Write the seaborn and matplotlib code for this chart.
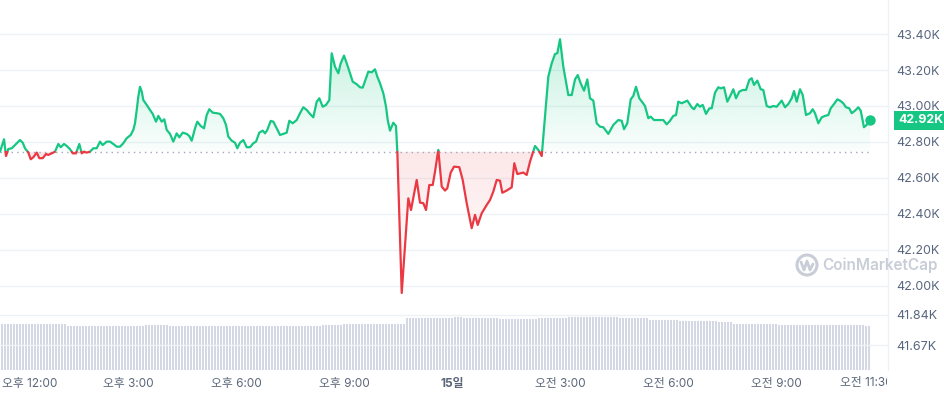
import numpy as np
import pandas as pd
import matplotlib
matplotlib.use("Agg")
import matplotlib.pyplot as plt
import matplotlib.colors as mcolors
import seaborn as sns
from matplotlib.path import Path
from matplotlib.patches import Circle
from matplotlib.lines import Line2D
from matplotlib.transforms import ScaledTranslation, Bbox, IdentityTransform, blended_transform_factory

# ------------------------------------------------------------
# Data (BTC price, 24h, hours relative to 00:00 on the 15th)
# ------------------------------------------------------------
hours = [
    -12.556, -12.444, -12.389, -12.325, -12.231, -12.139, -12.0, -11.925, -11.861, -11.769,
    -11.703, -11.631, -11.536, -11.464, -11.369, -11.278, -11.214, -11.119, -11.028, -10.936,
    -10.869, -10.778, -10.703, -10.611, -10.536, -10.444, -10.353, -10.286, -10.222, -10.147,
    -10.056, -9.964, -9.869, -9.778, -9.703, -9.592, -9.5, -9.408, -9.314, -9.222,
    -9.131, -9.036, -8.925, -8.853, -8.806, -8.758, -8.714, -8.667, -8.619, -8.575,
    -8.481, -8.389, -8.314, -8.222, -8.158, -8.064, -7.992, -7.925, -7.833, -7.742,
    -7.647, -7.575, -7.481, -7.369, -7.297, -7.231, -7.139, -7.075, -6.981, -6.889,
    -6.814, -6.742, -6.647, -6.536, -6.444, -6.353, -6.278, -6.214, -6.119, -6.028,
    -5.964, -5.889, -5.797, -5.703, -5.611, -5.519, -5.444, -5.353, -5.258, -5.194,
    -5.131, -5.036, -4.964, -4.869, -4.778, -4.686, -4.592, -4.519, -4.425, -4.314,
    -4.222, -4.131, -4.036, -3.944, -3.853, -3.758, -3.686, -3.592, -3.5, -3.408,
    -3.342, -3.25, -3.158, -3.092, -3.0, -2.925, -2.833, -2.758, -2.647, -2.556,
    -2.481, -2.389, -2.325, -2.231, -2.139, -2.075, -2.0, -1.908, -1.833, -1.786,
    -1.722, -1.631, -1.556, -1.519, -1.397, -1.214, -1.139, -0.981, -0.889, -0.797,
    -0.722, -0.631, -0.536, -0.472, -0.381, -0.286, -0.194, -0.131, -0.036, 0.056,
    0.203, 0.297, 0.408, 0.547, 0.639, 0.714, 0.825, 0.964, 1.056, 1.147,
    1.242, 1.333, 1.397, 1.519, 1.658, 1.731, 1.814, 1.981, 2.075, 2.167,
    2.306, 2.397, 2.492, 2.675, 2.769, 2.861, 2.925, 3.0, 3.092, 3.231,
    3.325, 3.417, 3.492, 3.575, 3.667, 3.758, 3.833, 3.925, 4.019, 4.111,
    4.203, 4.342, 4.481, 4.619, 4.714, 4.778, 4.869, 4.964, 5.036, 5.111,
    5.203, 5.297, 5.361, 5.453, 5.519, 5.611, 5.731, 5.869, 5.964, 6.056,
    6.147, 6.222, 6.286, 6.381, 6.536, 6.658, 6.722, 6.814, 6.889, 6.964,
    7.056, 7.147, 7.214, 7.306, 7.397, 7.464, 7.556, 7.647, 7.742, 7.814,
    7.889, 7.981, 8.075, 8.167, 8.258, 8.325, 8.389, 8.481, 8.575, 8.647,
    8.742, 8.833, 8.925, 9.019, 9.158, 9.25, 9.342, 9.436, 9.5, 9.575,
    9.667, 9.742, 9.833, 9.944, 10.019, 10.083, 10.175, 10.269, 10.361, 10.453,
    10.519, 10.611, 10.703, 10.778, 10.869, 10.944, 11.036, 11.103, 11.194, 11.286,
    11.353, 11.444, 11.519, 11.611,
]

prices = [  # thousands of USD
    42.746, 42.815, 42.722, 42.761, 42.765, 42.783, 42.811, 42.796, 42.765, 42.741,
    42.704, 42.715, 42.741, 42.710, 42.710, 42.733, 42.728, 42.737, 42.746, 42.789,
    42.771, 42.789, 42.778, 42.760, 42.737, 42.737, 42.789, 42.737, 42.746, 42.741,
    42.746, 42.765, 42.765, 42.802, 42.783, 42.802, 42.802, 42.789, 42.774, 42.774,
    42.793, 42.821, 42.839, 42.867, 42.904, 42.978, 43.052, 43.107, 43.080, 43.033,
    43.006, 42.978, 42.956, 42.913, 42.945, 42.913, 42.926, 42.867, 42.845, 42.802,
    42.848, 42.826, 42.852, 42.845, 42.833, 42.807, 42.876, 42.913, 42.889, 42.876,
    42.950, 42.982, 42.963, 42.960, 42.956, 42.932, 42.895, 42.830, 42.807, 42.796,
    42.765, 42.796, 42.811, 42.771, 42.771, 42.793, 42.802, 42.852, 42.863, 42.848,
    42.867, 42.917, 42.913, 42.876, 42.839, 42.845, 42.852, 42.918, 42.904, 42.922,
    42.960, 42.993, 42.978, 42.956, 42.937, 43.024, 43.043, 42.996, 43.006, 43.033,
    43.293, 43.218, 43.182, 43.237, 43.280, 43.237, 43.182, 43.135, 43.121, 43.104,
    43.102, 43.154, 43.191, 43.187, 43.204, 43.163, 43.126, 43.071, 42.996, 42.922,
    42.863, 42.907, 42.889, 42.746, 41.961, 42.487, 42.422, 42.589, 42.463, 42.460,
    42.422, 42.561, 42.561, 42.635, 42.756, 42.552, 42.530, 42.543, 42.630, 42.663,
    42.660, 42.589, 42.460, 42.321, 42.395, 42.339, 42.404, 42.450, 42.478, 42.524,
    42.589, 42.585, 42.518, 42.530, 42.548, 42.682, 42.622, 42.630, 42.617, 42.691,
    42.778, 42.756, 42.722, 43.163, 43.237, 43.289, 43.293, 43.371, 43.218, 43.061,
    43.061, 43.148, 43.172, 43.126, 43.085, 43.148, 43.043, 43.030, 42.904, 42.885,
    42.882, 42.845, 42.895, 42.922, 42.918, 42.871, 42.904, 43.037, 43.056, 43.107,
    43.043, 43.018, 43.000, 42.932, 42.941, 42.922, 42.922, 42.922, 42.898, 42.918,
    42.945, 42.950, 43.024, 43.015, 43.030, 42.993, 42.982, 43.011, 42.996, 43.006,
    42.956, 42.987, 42.987, 43.074, 43.104, 43.098, 43.104, 43.024, 43.061, 43.093,
    43.043, 43.080, 43.089, 43.089, 43.145, 43.154, 43.117, 43.141, 43.093, 43.089,
    43.000, 42.993, 43.000, 42.996, 43.030, 42.993, 43.011, 43.043, 43.083, 43.024,
    43.093, 43.061, 42.950, 42.960, 42.982, 42.960, 42.904, 42.937, 42.945, 42.950,
    42.987, 43.011, 43.037, 43.030, 43.015, 42.993, 42.987, 42.960, 42.974, 42.993,
    42.974, 42.882, 42.895, 42.920,
]

open_price = 42.745
last_price = 42.92

# 24h volume (billions USD), one bar per 5 minutes
volume_b = [
    23.0, 23.0, 23.0, 23.0, 23.0, 23.0, 23.0, 23.0, 23.0, 23.0, 23.0,
    23.0, 23.0, 23.0, 23.0, 23.0, 23.0, 23.0, 23.0, 23.0, 23.0, 23.0,
    22.0, 22.0, 22.0, 22.0, 22.0, 22.0, 22.0, 22.0, 22.0, 22.0, 22.0, 22.0, 22.0,
    22.0, 22.0, 22.0, 22.0, 22.0, 22.0, 22.0, 22.0, 22.0, 22.0, 22.0, 22.0, 22.0,
    22.7, 22.7, 22.7, 22.7, 22.7, 22.7, 22.7, 22.7,
    22.0, 22.0, 22.0, 22.0, 22.0, 22.0, 22.0, 22.0, 22.0, 22.0, 22.0, 22.0, 22.0,
    22.0, 22.0, 22.0, 22.0, 22.0, 22.0, 22.0, 22.0, 22.0, 22.0, 22.0, 22.0, 22.0,
    22.0, 22.0, 22.0, 22.0, 22.0, 22.0, 22.0, 22.0, 22.0, 22.0, 22.0, 22.0, 22.0,
    22.0, 22.0, 22.0, 22.0, 22.0, 22.0, 22.0, 22.0, 22.0, 22.0, 22.0, 22.0,
    22.7, 22.7, 22.7, 22.7, 22.7, 22.7, 22.7,
    23.0, 23.0, 23.0, 23.0, 23.0, 23.0, 23.0, 23.0, 23.0, 23.0, 23.0,
    23.0, 23.0, 23.0, 23.0, 23.0, 23.0, 23.0, 23.0, 23.0, 23.0,
    26.0, 26.0, 26.0, 26.0, 26.0, 26.0, 26.0, 26.0, 26.0, 26.0, 26.0, 26.0, 26.0, 26.0, 26.0, 26.0,
    26.7, 26.7, 26.7,
    26.2, 26.2, 26.2, 26.2, 26.2, 26.2, 26.2, 26.2, 26.2, 26.2, 26.2, 26.2,
    25.7, 25.7, 25.7, 25.7, 25.7, 25.7, 25.7, 25.7, 25.7, 25.7, 25.7, 25.7, 25.7,
    26.2, 26.2, 26.2, 26.2, 26.2, 26.2, 26.2, 26.2, 26.2, 26.2,
    26.7, 26.7, 26.7, 26.7, 26.7, 26.7, 26.7, 26.7, 26.7,
    26.7, 26.7, 26.7, 26.7, 26.7, 26.7, 26.7, 26.7,
    26.0, 26.0, 26.0, 26.0, 26.0, 26.0, 26.0, 26.0, 26.0, 26.0,
    25.3, 25.3, 25.3, 25.3, 25.3, 25.3, 25.3, 25.3, 25.3, 25.3,
    24.8, 24.8, 24.8, 24.8, 24.8, 24.8, 24.8, 24.8, 24.8, 24.8, 24.8, 24.8, 24.8,
    24.0, 24.0, 24.0, 24.0, 24.0,
    23.3, 23.3, 23.3, 23.3, 23.3, 23.3, 23.3, 23.3, 23.3, 23.3, 23.3, 23.3, 23.3, 23.3, 23.3,
    22.7, 22.7, 22.7, 22.7, 22.7, 22.7, 22.7, 22.7, 22.7, 22.7,
    22.7, 22.7, 22.7, 22.7, 22.7, 22.7, 22.7, 22.7, 22.7, 22.7,
    22.7, 22.7, 22.7, 22.7, 22.7, 22.7, 22.7, 22.7, 22.7,
    22.0, 22.0,
]
vol_start = -12.556  # hour of the first volume bucket

price_ticks = [41.67, 41.84, 42.00, 42.20, 42.40, 42.60, 42.80, 43.00, 43.20, 43.40]
time_ticks = [-12, -9, -6, -3, 0, 3, 6, 9]
time_labels = ["오후 12:00", "오후 3:00", "오후 6:00", "오후 9:00", "15일",
               "오전 3:00", "오전 6:00", "오전 9:00"]
last_tick, last_label = 11.5, "오전 11:30"

GREEN = "#16c784"
RED = "#ea3943"
TEXT = "#58667e"
GRID = "#eff2f5"

assert len(hours) == len(prices)

# ------------------------------------------------------------
# Split line into above/below-open segments
# ------------------------------------------------------------
t = np.array(hours)
p = np.array(prices)


def lab(up):
    return "up" if up else "down"


rows = []
seg = 0
prev_up = p[0] >= open_price
rows.append((t[0], p[0], seg, lab(prev_up)))
for i in range(1, len(p)):
    up = p[i] >= open_price
    if up != prev_up:
        tc = t[i - 1] + (open_price - p[i - 1]) * (t[i] - t[i - 1]) / (p[i] - p[i - 1])
        rows.append((tc, open_price, seg, lab(prev_up)))
        seg += 1
        rows.append((tc, open_price, seg, lab(up)))
    rows.append((t[i], p[i], seg, lab(up)))
    prev_up = up
df = pd.DataFrame(rows, columns=["t", "price", "seg", "side"])

# ------------------------------------------------------------
# Figure
# ------------------------------------------------------------
sns.set_theme(style="white")
plt.rcParams["font.family"] = ["Inter", "Noto Sans CJK KR", "DejaVu Sans"]

W, H = 944, 396
fig = plt.figure(figsize=(W / 100, H / 100), dpi=100)
ax = fig.add_axes([0, 26 / H, 888 / W, 370 / H])
ax2 = ax.twinx()

xmin, xmax = -12.556, 12.111
ymin, ymax = 41.533, 43.589

# volume bars (thin white gaps between buckets)
vol_t = vol_start + (np.arange(len(volume_b)) + 0.5) / 12
ax2.bar(vol_t, volume_b, width=1 / 12, color="#d3d8e4", edgecolor="white", linewidth=0.7)
ax2.set_ylim(0, 182)
ax2.set_yticks([])
for s in ax2.spines.values():
    s.set_visible(False)

ax.set_zorder(ax2.get_zorder() + 1)
ax.patch.set_visible(False)


def gradient_fill(mask, color, y_top, y_bot, a_top, a_bot):
    poly = ax.fill_between(t, p, open_price, where=mask, interpolate=True,
                           facecolor="none", edgecolor="none")
    path = Path.make_compound_path(*poly.get_paths())
    grad = np.zeros((256, 1, 4))
    grad[..., :3] = mcolors.to_rgb(color)
    grad[:, 0, 3] = np.linspace(a_top, a_bot, 256)
    im = ax.imshow(grad, extent=[t[0], t[-1], y_bot, y_top], origin="upper",
                   aspect="auto", zorder=1, interpolation="bilinear")
    im.set_clip_path(path, transform=ax.transData)


gradient_fill(p >= open_price, GREEN, 43.40, open_price, 0.26, 0.02)
gradient_fill(p <= open_price, RED, open_price, 41.95, 0.12, 0.0)

# open reference
ax.hlines(open_price, t[0], t[-1], colors="#a1a7bb", linestyles=(0, (1, 3)), linewidth=1, zorder=2)

sns.lineplot(data=df, x="t", y="price", hue="side", units="seg", estimator=None,
             palette={"up": GREEN, "down": RED}, linewidth=1.6, legend=False,
             sort=False, ax=ax, zorder=3)
ax.plot([t[-1]], [last_price], "o", color=GREEN, markersize=6.5, zorder=4)

ax.set_xlim(xmin, xmax)
ax.set_ylim(ymin, ymax)
ax.set_xlabel("")
ax.set_ylabel("")

# axes styling
ax.yaxis.tick_right()
ax.set_yticks(price_ticks, [f"{v:.2f}K" for v in price_ticks])
ax.tick_params(axis="y", length=0, pad=6, labelsize=9, labelcolor=TEXT)
ax.set_xticks(time_ticks, time_labels)
ax.tick_params(axis="x", length=0, pad=6, labelsize=8.5, labelcolor="#5b667a")
ax.grid(axis="y", color=GRID, linewidth=1)
ax.grid(axis="x", visible=False)
for name, s in ax.spines.items():
    s.set_visible(name == "right")
ax.spines["right"].set_color(GRID)
ax.spines["right"].set_linewidth(1)

xl = ax.get_xticklabels()
xl[4].set_fontweight("bold")
xl[0].set_horizontalalignment("left")
xl[0].set_transform(xl[0].get_transform() + ScaledTranslation(-0.18, 0, fig.dpi_scale_trans))

# clipped last label at the right end
tx = blended_transform_factory(ax.transData, IdentityTransform())
last = ax.text(last_tick, H - 383, last_label, transform=tx, ha="center", va="center",
               fontsize=8.5, color="#5b667a", clip_on=True)
last.set_clip_box(Bbox.from_extents(0, 0, 887, H))

# current price tag
ty = blended_transform_factory(ax.transAxes, ax.transData)
ax.text(1.0 + 10 / 888, last_price, f"{last_price:.2f}K", transform=ty, ha="left", va="center",
        fontsize=9, fontweight="bold", color="white", clip_on=False, zorder=5,
        bbox=dict(boxstyle="square,pad=0.3", fc=GREEN, ec="none"))

# watermark
fig.text(822 / W, 1 - 265 / H, "CoinMarketCap", ha="left", va="center", fontsize=11,
         fontweight="semibold", color="#c8cdd7")
fig.add_artist(Circle((807, H - 265), 10, transform=IdentityTransform(), fill=False,
                      ec="#c8cdd7", lw=2.2))
fig.add_artist(Line2D([801, 804, 807, 810, 813], [H - 262, H - 270, H - 261, H - 270, H - 264],
                      transform=IdentityTransform(), color="#c8cdd7", lw=2))

fig.savefig("out.png", dpi=100)
